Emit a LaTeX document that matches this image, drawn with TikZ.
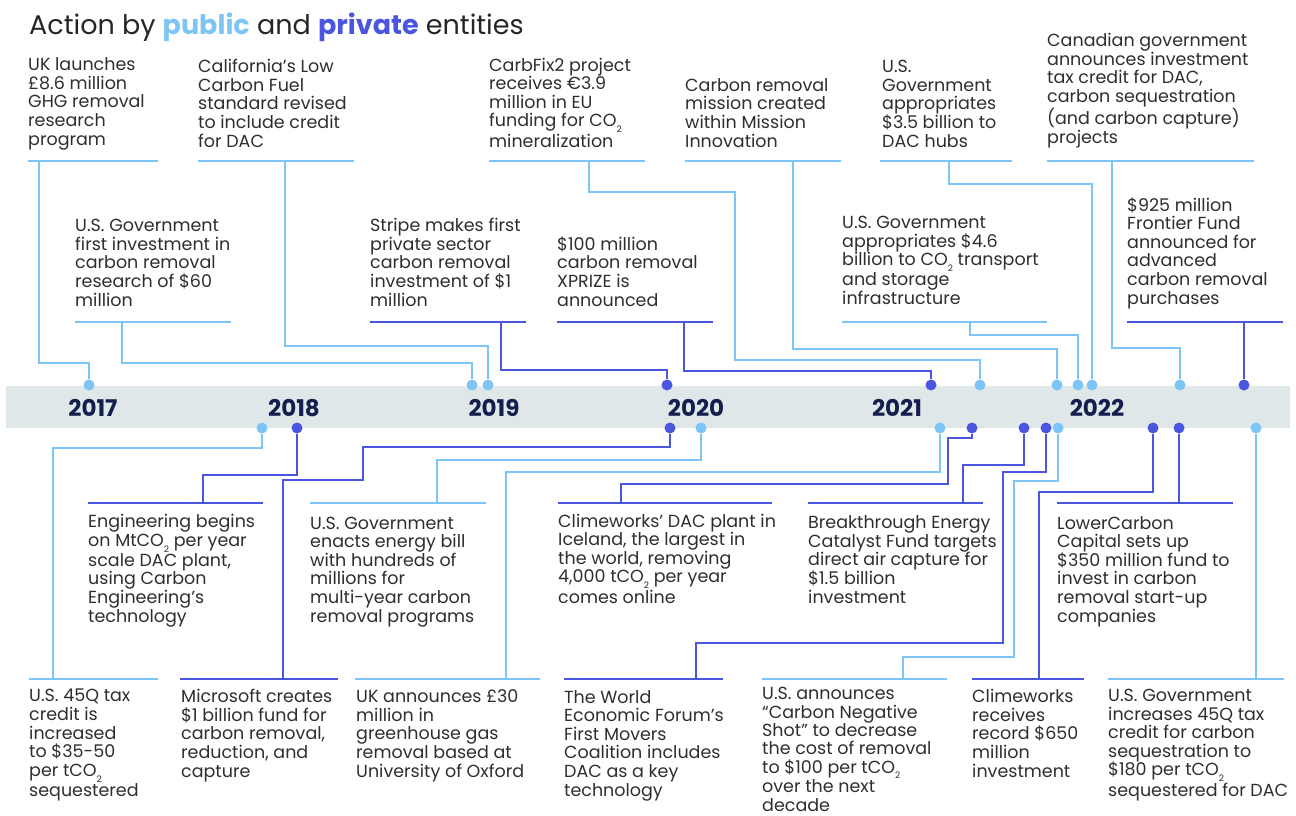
\documentclass[tikz,border=0pt]{standalone}
\usepackage{fontspec}
\setmainfont{Poppins}
\usepackage{tikz}
\definecolor{pubblue}{HTML}{7CC5F4}
\definecolor{privblue}{HTML}{4A55E0}
\definecolor{bandgrey}{HTML}{DFE7E8}
\definecolor{yearnavy}{HTML}{151E4F}
\definecolor{bodytext}{HTML}{2E2E2E}
\newcommand{\cotwo}{CO\raisebox{-.6ex}{\fontsize{9}{9}\selectfont 2}}

\begin{document}
\begin{tikzpicture}[
        x=1pt, y=-1pt,
        every node/.style={font=\fontsize{17.5}{18.6}\selectfont, text=bodytext, inner sep=0pt},
        ev/.style={anchor=base west, align=left},
        yr/.style={font=\fontsize{23}{23}\selectfont\bfseries, text=yearnavy},
        pub/.style={draw=pubblue, line width=2.4pt},
        prv/.style={draw=privblue, line width=2.4pt},
        pdot/.style={circle, fill=pubblue, minimum size=11pt},
        vdot/.style={circle, fill=privblue, minimum size=11pt},
      ]
      \useasboundingbox (0,0) rectangle (1296,816);
      \node[anchor=base west, font=\fontsize{27}{27}\selectfont, text=black!85] (title) at (29,35)
        {Action by {\bfseries\color{pubblue}public} and {\bfseries\color{privblue}private} entities};

      % timeline band and years
      \fill[bandgrey] (6,386) rectangle (1290,428);
      \node[yr] (y17) at (93,408)  {2017};
      \node[yr] (y18) at (294,408) {2018};
      \node[yr] (y19) at (494,408) {2019};
      \node[yr] (y20) at (696,408) {2020};
      \node[yr] (y21) at (897,408) {2021};
      \node[yr] (y22) at (1097,408) {2022};

      % dots above the band
      \node[pdot] (t1)  at (89,385)   {};
      \node[pdot] (t2)  at (472,385)  {};
      \node[pdot] (t3)  at (488,385)  {};
      \node[vdot] (t4)  at (667,385)  {};
      \node[vdot] (t5)  at (931,385)  {};
      \node[pdot] (t6)  at (980,385)  {};
      \node[pdot] (t7)  at (1057,385) {};
      \node[pdot] (t8)  at (1078,385) {};
      \node[pdot] (t9)  at (1092,385) {};
      \node[pdot] (t10) at (1180,385) {};
      \node[vdot] (t11) at (1244,385) {};

      % dots below the band
      \node[pdot] (d1)  at (262,428)  {};
      \node[vdot] (d2)  at (297,428)  {};
      \node[vdot] (d3)  at (670,428)  {};
      \node[pdot] (d4)  at (701,428)  {};
      \node[pdot] (d5)  at (940,428)  {};
      \node[vdot] (d6)  at (972,428)  {};
      \node[vdot] (d7)  at (1024,428) {};
      \node[vdot] (d8)  at (1046,428) {};
      \node[pdot] (d9)  at (1058,428) {};
      \node[vdot] (d10) at (1153,428) {};
      \node[vdot] (d11) at (1179,428) {};
      \node[pdot] (d12) at (1256,428) {};

      % upper row of events (anchored at the last baseline)
      \node[ev] (uk86) at (28,145) {UK launches\\\pounds8.6 million\\GHG removal\\research\\program};
      \draw[pub] (28,161) -- (158,161);
      \coordinate (a1) at (39,161);
      \node[ev] (lcfs) at (198,147) {California’s Low\\Carbon Fuel\\standard revised\\to include credit\\for DAC};
      \draw[pub] (198,161) -- (354,161);
      \coordinate (a2) at (285,161);
      \node[ev] (carbfix) at (489,147) {CarbFix2 project\\receives €3.9\\million in EU\\funding for \cotwo\\mineralization};
      \draw[pub] (489,161) -- (645,161);
      \coordinate (a3) at (589,161);
      \node[ev] (mission) at (685,147) {Carbon removal\\mission created\\within Mission\\Innovation};
      \draw[pub] (685,161) -- (841,161);
      \coordinate (a4) at (793,161);
      \node[ev] (hubs) at (882,147) {U.S.\\Government\\appropriates\\\$3.5 billion to\\DAC hubs};
      \draw[pub] (880,161) -- (1012,161);
      \coordinate (a5) at (949,161);
      \node[ev] (canada) at (1047,143) {Canadian government\\announces investment\\tax credit for DAC,\\carbon sequestration\\(and carbon capture)\\projects};
      \draw[pub] (1047,161) -- (1254,161);
      \coordinate (a6) at (1112,161);

      % middle row of events
      \node[ev] (usfirst) at (75,306) {U.S. Government\\first investment in\\carbon removal\\research of \$60\\million};
      \draw[pub] (75,322) -- (231,322);
      \coordinate (b1) at (122,322);
      \node[ev] (stripe) at (370,306) {Stripe makes first\\private sector\\carbon removal\\investment of \$1\\million};
      \draw[prv] (370,322) -- (526,322);
      \coordinate (b2) at (501,322);
      \node[ev] (xprize) at (557,306) {\$100 million\\carbon removal\\XPRIZE is\\announced};
      \draw[prv] (557,322) -- (713,322);
      \coordinate (b3) at (684,322);
      \node[ev] (transport) at (842,304) {U.S. Government\\appropriates \$4.6\\billion to \cotwo{} transport\\and storage\\infrastructure};
      \draw[pub] (842,322) -- (1047,322);
      \coordinate (b4) at (970,322);
      \node[ev] (frontier) at (1127,304) {\$925 million\\Frontier Fund\\announced for\\advanced\\carbon removal\\purchases};
      \draw[prv] (1127,322) -- (1283,322);
      \coordinate (b5) at (1244,322);

      % upper connectors
      \draw[pub] (a1) -- (39,363) -| (t1);
      \draw[pub] (b1) -- (122,363) -| (t2);
      \draw[pub] (a2) -- (285,346) -| (t3);
      \draw[prv] (b2) -- (501,370) -| (t4);
      \draw[prv] (b3) -- (684,371) -| (t5);
      \draw[pub] (a3) -- (589,192) -- (735,192) -- (735,360) -| (t6);
      \draw[pub] (a4) -- (793,349) -| (t7);
      \draw[pub] (b4) -- (970,335) -| (t8);
      \draw[pub] (a5) -- (949,184) -| (t9);
      \draw[pub] (a6) -- (1112,348) -| (t10);
      \draw[prv] (b5) -- (t11);

      % lower-middle row of events
      \node[ev] (mtplant) at (88,622) {Engineering begins\\on Mt\cotwo{} per year\\scale DAC plant,\\using Carbon\\Engineering’s\\technology};
      \draw[prv] (88,503) -- (263,503);
      \coordinate (c1) at (203,503);
      \node[ev] (energybill) at (310,622) {U.S. Government\\enacts energy bill\\with hundreds of\\millions for\\multi-year carbon\\removal programs};
      \draw[pub] (310,503) -- (486,503);
      \coordinate (c2) at (437,503);
      \node[ev] (orca) at (558,603) {Climeworks’ DAC plant in\\Iceland, the largest in\\the world, removing\\4,000 t\cotwo{} per year\\comes online};
      \draw[prv] (558,503) -- (772,503);
      \coordinate (c3) at (621,503);
      \node[ev] (catalyst) at (808,603) {Breakthrough Energy\\Catalyst Fund targets\\direct air capture for\\\$1.5 billion\\investment};
      \draw[prv] (808,503) -- (983,503);
      \coordinate (c4) at (963,503);
      \node[ev] (lowercarbon) at (1057,622) {LowerCarbon\\Capital sets up\\\$350 million fund to\\invest in carbon\\removal start-up\\companies};
      \draw[prv] (1057,503) -- (1233,503);
      \coordinate (c5) at (1179,503);

      % bottom row of events
      \node[ev] (q45) at (29,796) {U.S. 45Q tax\\credit is\\increased\\to \$35-50\\per t\cotwo\\sequestered};
      \draw[pub] (29,679) -- (158,679);
      \coordinate (e1) at (53,679);
      \node[ev] (msft) at (181,777) {Microsoft creates\\\$1 billion fund for\\carbon removal,\\reduction, and\\capture};
      \draw[prv] (180,679) -- (338,679);
      \coordinate (e2) at (283,679);
      \node[ev] (oxford) at (356,777) {UK announces \pounds30\\million in\\greenhouse gas\\removal based at\\University of Oxford};
      \draw[pub] (355,679) -- (540,679);
      \coordinate (e3) at (506,679);
      \node[ev] (wef) at (564,796) {The World\\Economic Forum’s\\First Movers\\Coalition includes\\DAC as a key\\technology};
      \draw[prv] (564,679) -- (723,679);
      \coordinate (e4) at (696,679);
      \node[ev, font=\fontsize{17.5}{18.3}\selectfont] (earthshot) at (762,811) {U.S. announces\\“Carbon Negative\\Shot” to decrease\\the cost of removal\\to \$100 per t\cotwo\\over the next\\decade};
      \draw[pub] (762,679) -- (947,679);
      \coordinate (e5) at (903,679);
      \node[ev] (climeworks) at (972,777) {Climeworks\\receives\\record \$650\\million\\investment};
      \draw[prv] (972,679) -- (1084,679);
      \coordinate (e6) at (1039,679);
      \node[ev] (q45b) at (1108,796) {U.S. Government\\increases 45Q tax\\credit for carbon\\sequestration to\\\$180 per t\cotwo\\sequestered for DAC};
      \draw[pub] (1108,679) -- (1284,679);
      \coordinate (e7) at (1256,679);

      % lower connectors
      \draw[pub] (e1) -- (53,448) -| (d1);
      \draw[prv] (c1) -- (203,475) -| (d2);
      \draw[prv] (e2) -- (283,480) -- (363,480) -- (363,447) -| (d3);
      \draw[pub] (c2) -- (437,460) -| (d4);
      \draw[pub] (e3) -- (506,472) -| (d5);
      \draw[prv] (c3) -- (621,484) -- (948,484) -- (948,438) -| (d6);
      \draw[prv] (c4) -- (963,465) -| (d7);
      \draw[prv] (e4) -- (696,643) -- (1003,643) -- (1003,472) -| (d8);
      \draw[pub] (e5) -- (903,657) -- (1014,657) -- (1014,481) -| (d9);
      \draw[prv] (e6) -- (1039,492) -| (d10);
      \draw[prv] (c5) -- (d11);
      \draw[pub] (e7) -- (d12);
    \end{tikzpicture}
\end{document}
